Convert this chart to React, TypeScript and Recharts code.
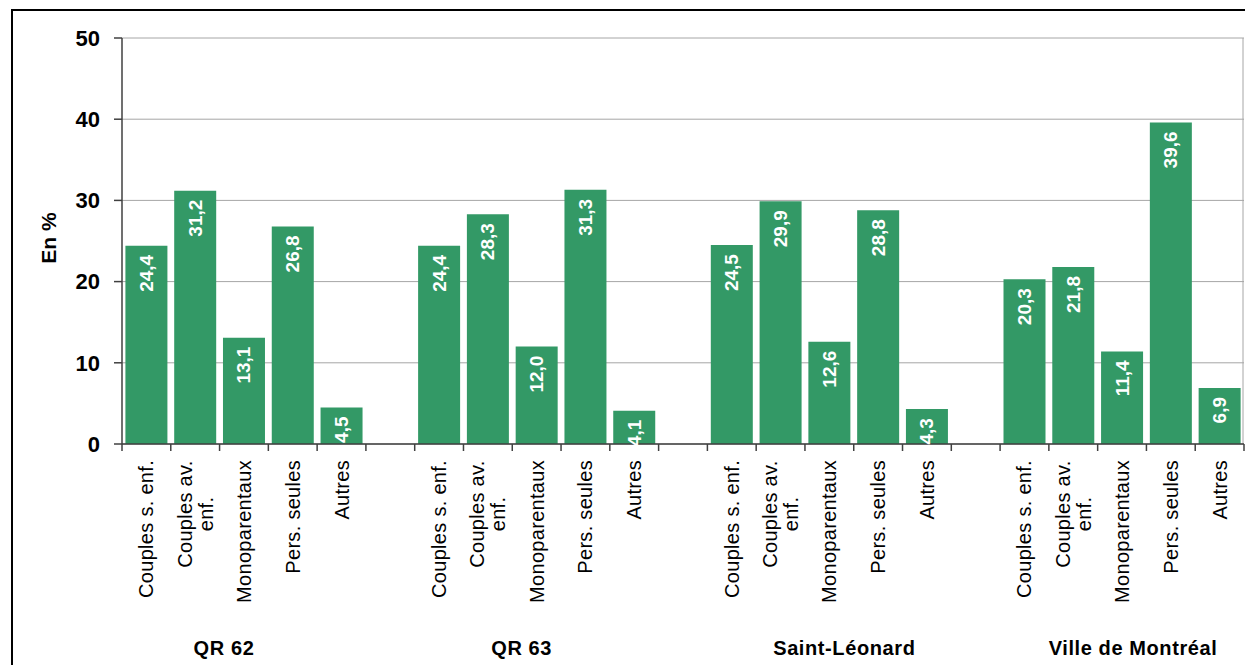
import { BarChart, Bar, XAxis, YAxis, CartesianGrid, LabelList } from "recharts";

const GROUPS = ["QR 62", "QR 63", "Saint-Léonard", "Ville de Montréal"];
const TYPES = ["Couples s. enf.", "Couples av.\nenf.", "Monoparentaux", "Pers. seules", "Autres"];
const QR62 = [24.4, 31.2, 13.1, 26.8, 4.5];
const QR63 = [24.4, 28.3, 12.0, 31.3, 4.1];
const SAINT_LEONARD = [24.5, 29.9, 12.6, 28.8, 4.3];
const MONTREAL = [20.3, 21.8, 11.4, 39.6, 6.9];
const Y_TICKS = [0, 10, 20, 30, 40, 50];

const SERIES = [QR62, QR63, SAINT_LEONARD, MONTREAL];

type Row = { key: string; type: string; group: string; ti: number; gi: number; value: number | null };

const data: Row[] = [];
SERIES.forEach((vals, gi) => {
  vals.forEach((v, ti) => {
    data.push({ key: `${gi}-${ti}`, type: TYPES[ti], group: GROUPS[gi], ti, gi, value: v });
  });
  if (gi < SERIES.length - 1) {
    data.push({ key: `gap-${gi}`, type: "", group: "", ti: -1, gi, value: null });
  }
});

const FONT = "'Liberation Sans', Arial, sans-serif";
const W = 1245;
const H = 665;
const PLOT_LEFT = 122;
const PLOT_RIGHT = 1244;
const SLOT = (PLOT_RIGHT - PLOT_LEFT) / data.length;
// group titles sit a bit off the group centre in the original
const GROUP_DX = [-20, -15, 15, 11];

const fmt = (v: number) => v.toFixed(1).replace(".", ",");

function TypeTick(props: any) {
  const { x, y, payload, index } = props;
  const i = payload.index ?? index;
  const row = data[i];
  const tx = x - SLOT / 2;
  const lines = row && row.type ? row.type.split("\n") : [];
  const lh = 21;
  const top = y + 16;
  const common = {
    dominantBaseline: "central" as const,
    fontFamily: FONT,
    fontSize: 20,
    letterSpacing: 0.3,
    fill: "#000",
  };
  return (
    <g>
      <line x1={tx} x2={tx} y1={y} y2={y + 7} stroke="#404040" strokeWidth={1.5} />
      {i === data.length - 1 && (
        <line x1={x + SLOT / 2} x2={x + SLOT / 2} y1={y} y2={y + 7} stroke="#404040" strokeWidth={1.5} />
      )}
      {lines.length === 1 && (
        <text x={x} y={top} transform={`rotate(-90, ${x}, ${top})`} textAnchor="end" {...common}>
          {lines[0]}
        </text>
      )}
      {lines.length > 1 && (
        <text x={x} y={top + 54} transform={`rotate(-90, ${x}, ${top + 54})`} textAnchor="middle" {...common}>
          {lines.map((l, k) => (
            <tspan key={k} x={x} y={top + 54 + (k - (lines.length - 1) / 2) * lh}>
              {l}
            </tspan>
          ))}
        </text>
      )}
    </g>
  );
}

function GroupTick(props: any) {
  const { x, y, payload, index } = props;
  const row = data[payload.index ?? index];
  if (!row || row.ti !== 2) return <g />;
  return (
    <text
      x={x + GROUP_DX[row.gi]}
      y={y + 44}
      textAnchor="middle"
      dominantBaseline="central"
      fontFamily={FONT}
      fontSize={20}
      letterSpacing={0.6}
      fontWeight="bold"
      fill="#000"
    >
      {row.group}
    </text>
  );
}

function ValueLabel(props: any) {
  const { x, y, width, value } = props;
  if (value == null) return null;
  const cx = x + width / 2;
  const ty = y + 9;
  return (
    <text
      x={cx}
      y={ty}
      transform={`rotate(-90, ${cx}, ${ty})`}
      textAnchor="end"
      dominantBaseline="central"
      fontFamily={FONT}
      fontSize={19}
      fontWeight="bold"
      fill="#fff"
    >
      {fmt(value)}
    </text>
  );
}

export default function App() {
  return (
    <div style={{ position: "absolute", left: 0, top: 0, width: W, height: H, overflow: "hidden", background: "#fff" }}>
      <div
        style={{
          position: "absolute",
          left: 11,
          top: 9,
          width: 1260,
          height: 700,
          border: "2px solid #000",
          boxSizing: "border-box",
        }}
      />
      <div style={{ position: "absolute", left: 0, top: 0 }}>
        <BarChart
          width={W}
          height={H}
          data={data}
          margin={{ top: 38, right: W - PLOT_RIGHT, bottom: 0, left: 0 }}
          barCategoryGap="7%"
        >
          <CartesianGrid
            stroke="#a6a6a6"
            strokeWidth={1}
            vertical={true}
            verticalPoints={[PLOT_RIGHT - 1]}
          />
          <XAxis
            dataKey="key"
            interval={0}
            height={160}
            tickSize={0}
            tickMargin={0}
            tickLine={false}
            axisLine={{ stroke: "#404040", strokeWidth: 1.5 }}
            tick={<TypeTick />}
          />
          <XAxis
            xAxisId="grp"
            dataKey="key"
            interval={0}
            height={61}
            tickSize={0}
            tickMargin={0}
            tickLine={false}
            axisLine={false}
            tick={<GroupTick />}
          />
          <YAxis
            width={PLOT_LEFT}
            domain={[0, 50]}
            ticks={Y_TICKS}
            interval={0}
            tickSize={8}
            tickMargin={14}
            tickLine={{ stroke: "#404040", strokeWidth: 1.5 }}
            axisLine={{ stroke: "#404040", strokeWidth: 1.5 }}
            tick={{ fontFamily: FONT, fontSize: 22, fontWeight: "bold", fill: "#000" }}
            label={{
              content: (p: any) => {
                const vb = p.viewBox || { x: 0, y: 38, width: 122, height: 406 };
                const lx = vb.x + 48;
                const ly = vb.y + vb.height / 2 - 3;
                return (
                  <text
                    x={lx}
                    y={ly}
                    transform={`rotate(-90, ${lx}, ${ly})`}
                    textAnchor="middle"
                    dominantBaseline="central"
                    fontFamily={FONT}
                    fontSize={21}
                    fontWeight="bold"
                    fill="#000"
                  >
                    En %
                  </text>
                );
              },
            }}
          />
          <Bar dataKey="value" fill="#339966" isAnimationActive={false}>
            <LabelList dataKey="value" content={<ValueLabel />} />
          </Bar>
        </BarChart>
      </div>
    </div>
  );
}
